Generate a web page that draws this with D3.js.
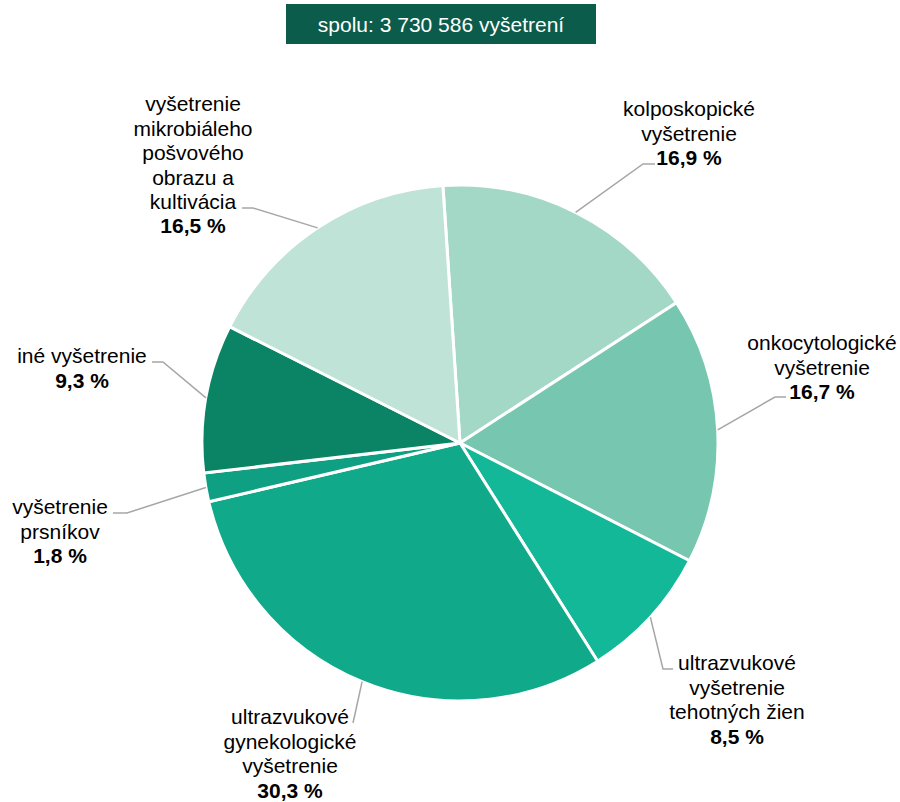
<!DOCTYPE html>
<html>
<head>
<meta charset="utf-8">
<script src="https://cdn.jsdelivr.net/npm/d3@7"></script>
<style>
  html, body { margin: 0; padding: 0; background: #fff; }
  svg { display: block; font-family: "Liberation Sans", Arial, sans-serif; }
</style>
</head>
<body>
<svg id="chart" width="900" height="802"></svg>
<script>
// ---- data ----
const categories = [
  ["kolposkopické", "vyšetrenie"],
  ["onkocytologické", "vyšetrenie"],
  ["ultrazvukové", "vyšetrenie", "tehotných žien"],
  ["ultrazvukové", "gynekologické", "vyšetrenie"],
  ["vyšetrenie", "prsníkov"],
  ["iné vyšetrenie"],
  ["vyšetrenie", "mikrobiáleho", "pošvového", "obrazu a", "kultivácia"]
];
const values = [16.9, 16.7, 8.5, 30.3, 1.8, 9.3, 16.5];
const valueLabels = ["16,9 %", "16,7 %", "8,5 %", "30,3 %", "1,8 %", "9,3 %", "16,5 %"];
const colors = ["#a3d7c6", "#77c7b0", "#12b897", "#10a98a", "#0f9f82", "#0b8466", "#c0e3d8"];
const totalTitle = "spolu: 3 730 586 vyšetrení";

// ---- layout (annotation positions) ----
const cx = 460, cy = 443, R = 258;
const startAngle = -3.8 * Math.PI / 180;
const lineH = 24.4;
// elbow point, horizontal end, text center x, first line center y
const labelLayout = [
  { elbow: [643, 164], end: [655, 164], tx: 689, ty: 109 },
  { elbow: [775, 397], end: [786, 397], tx: 822, ty: 343 },
  { elbow: [663, 669], end: [673, 669], tx: 737, ty: 663 },
  { elbow: [353, 723], end: null,       tx: 290, ty: 717 },
  { elbow: [127, 513], end: [113, 513], tx: 60,  ty: 507 },
  { elbow: [163, 362], end: [152, 362], tx: 82,  ty: 356 },
  { elbow: [253, 208], end: [242, 208], tx: 193, ty: 104 }
];

const svg = d3.select("#chart");

// title box
const title = svg.append("g");
title.append("rect").attr("x", 286).attr("y", 4).attr("width", 310).attr("height", 40)
  .attr("fill", "#0b5c4b");
title.append("text").attr("x", 441).attr("y", 25).attr("dy", "0.35em")
  .attr("text-anchor", "middle").attr("fill", "#ffffff").attr("font-size", 21)
  .text(totalTitle);

// pie
const pie = d3.pie().sort(null).value(d => d)
  .startAngle(startAngle).endAngle(startAngle + 2 * Math.PI);
const arcs = pie(values);
const arc = d3.arc().innerRadius(0).outerRadius(R);

const g = svg.append("g").attr("transform", `translate(${cx},${cy})`);
g.selectAll("path").data(arcs).join("path")
  .attr("d", arc)
  .attr("fill", (d, i) => colors[i])
  .attr("stroke", "#ffffff")
  .attr("stroke-width", 3)
  .attr("stroke-linejoin", "round");

// leader lines
const lines = svg.append("g");
arcs.forEach((d, i) => {
  const a = (d.startAngle + d.endAngle) / 2;
  const p0 = [cx + R * Math.sin(a), cy - R * Math.cos(a)];
  const L = labelLayout[i];
  const pts = [p0, L.elbow];
  if (L.end) pts.push(L.end);
  lines.append("path")
    .attr("d", d3.line()(pts))
    .attr("fill", "none")
    .attr("stroke", "#a6a6a6")
    .attr("stroke-width", 1.5);
});

// labels
const labels = svg.append("g");
categories.forEach((lns, i) => {
  const L = labelLayout[i];
  const t = labels.append("text").attr("text-anchor", "middle").attr("font-size", 21)
    .attr("fill", "#000");
  lns.forEach((s, k) => {
    t.append("tspan").attr("x", L.tx).attr("y", L.ty + k * lineH).attr("dy", "0.35em").text(s);
  });
  t.append("tspan").attr("x", L.tx).attr("y", L.ty + lns.length * lineH).attr("dy", "0.35em")
    .attr("font-weight", "bold").text(valueLabels[i]);
});
</script>
</body>
</html>
